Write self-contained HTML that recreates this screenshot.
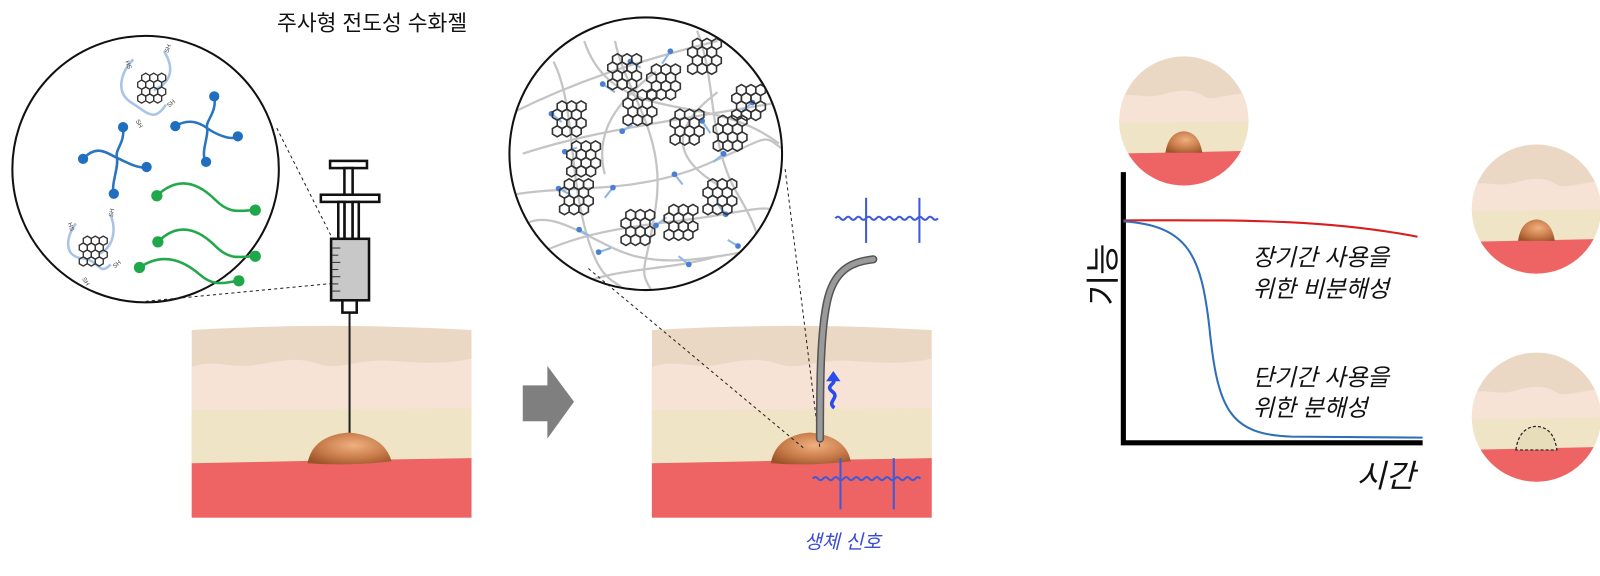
<!DOCTYPE html>
<html><head><meta charset="utf-8"><style>
html,body{margin:0;padding:0;background:#fff;}
svg{display:block;}
text{font-family:"Liberation Sans","Noto Sans CJK KR",sans-serif;}
</style></head><body>
<svg width="1600" height="576" viewBox="0 0 1561 562" xmlns="http://www.w3.org/2000/svg">
<defs>
<radialGradient id="bump" cx="0.55" cy="0.4" r="0.7">
<stop offset="0" stop-color="#f0b080"/><stop offset="0.6" stop-color="#c67a48"/><stop offset="1" stop-color="#9a5228"/></radialGradient>
<path id="h" d="M0,-4.5 L3.9,-2.25 L3.9,2.25 L0,4.5 L-3.9,2.25 L-3.9,-2.25Z" fill="none" stroke="#333" stroke-width="1.3"/>
<g id="c">
<use href="#h" x="-3.9" y="-10.1"/><use href="#h" x="3.9" y="-10.1"/><use href="#h" x="11.7" y="-10.1"/>
<use href="#h" x="-7.8" y="-3.4"/><use href="#h" x="0" y="-3.4"/><use href="#h" x="7.8" y="-3.4"/>
<use href="#h" x="-3.9" y="3.4"/><use href="#h" x="3.9" y="3.4"/><use href="#h" x="11.7" y="3.4"/>
<use href="#h" x="-7.8" y="10.1"/><use href="#h" x="0" y="10.1"/><use href="#h" x="7.8" y="10.1"/>
</g>
<g id="c2" transform="scale(1.2)"><use href="#c"/></g>
<g id="skin">
<path d="M187,322 Q320,314 460,322 L460,505 L187,505Z" fill="#ebd8c4"/>
<path d="M187,358 C210,350 225,360 250,356 S290,348 310,355 S350,350 380,352 S430,356 460,350 L460,505 L187,505Z" fill="#f7e2d6"/>
<path d="M187,400 L460,398 L460,505 L187,505Z" fill="#efe5c6"/>
<path d="M187,452 L340,449 L460,447 L460,505 L187,505Z" fill="#ee6363"/>
</g>
<g id="cskin">
<rect x="-70" y="-70" width="140" height="140" fill="#ebd8c4"/>
<path d="M-70,-22 C-50,-30 -40,-20 -20,-26 S10,-30 20,-24 S50,-30 70,-26 L70,70 L-70,70Z" fill="#f7e2d6"/>
<path d="M-70,2 L70,0 L70,70 L-70,70Z" fill="#efe5c6"/>
<path d="M-70,32 L70,29 L70,70 L-70,70Z" fill="#ee6363"/>
</g>
<clipPath id="cc"><circle cx="0" cy="0" r="63"/></clipPath>
<clipPath id="mc"><circle cx="630" cy="150" r="132"/></clipPath>
</defs>

<text x="363" y="30" font-size="21" text-anchor="middle" fill="#111">주사형 전도성 수화젤</text>

<circle cx="142" cy="165" r="130" fill="#fff" stroke="#111" stroke-width="2"/>
<line x1="270" y1="125" x2="328" y2="240" stroke="#222" stroke-dasharray="3,3"/>
<line x1="142" y1="294" x2="330" y2="276" stroke="#222" stroke-dasharray="3,3"/>
<g stroke="#a9c4e4" stroke-width="2.5" fill="none">
<path d="M130,58 C118,70 112,90 128,100 S150,120 162,102"/>
<path d="M160,50 C170,66 168,80 150,88"/>
<path d="M74,218 C64,232 62,250 80,252 S96,270 108,258"/>
<path d="M108,210 C114,226 110,242 96,248"/>
</g>
<use href="#c" x="146" y="86"/>
<use href="#c" x="89" y="245"/>
<g font-size="6" fill="#444">
<text x="122" y="60" transform="rotate(70 122 60)">HS</text>
<text x="164" y="52" transform="rotate(-70 164 52)">SH</text>
<text x="165" y="105" transform="rotate(-40 165 105)">SH</text>
<text x="132" y="118" transform="rotate(60 132 118)">SH</text>
<text x="66" y="218" transform="rotate(70 66 218)">HS</text>
<text x="110" y="212" transform="rotate(-80 110 212)">SH</text>
<text x="112" y="262" transform="rotate(-40 112 262)">SH</text>
<text x="80" y="272" transform="rotate(60 80 272)">SH</text>
</g>
<g stroke="#2a74c0" stroke-width="2.5" fill="none">
<path d="M81,155 C95,140 105,150 114,154 S135,165 143,163"/>
<path d="M120,124 C122,140 112,145 114,154 S108,180 111,189"/>
<path d="M171,123 C185,115 195,120 202,125 S225,138 232,133"/>
<path d="M209,94 C212,110 200,118 202,125 S195,150 201,158"/>
</g>
<g fill="#1f6ec0">
<circle cx="81" cy="155" r="5"/><circle cx="120" cy="124" r="5"/><circle cx="143" cy="163" r="5"/><circle cx="111" cy="189" r="5"/>
<circle cx="171" cy="123" r="5"/><circle cx="209" cy="94" r="5"/><circle cx="232" cy="133" r="5"/><circle cx="201" cy="158" r="5"/>
</g>
<g stroke="#22a84a" stroke-width="2.5" fill="none">
<path d="M153,191 C175,170 195,180 210,195 S235,205 249,205"/>
<path d="M154,236 C175,215 195,225 210,240 S235,250 249,250"/>
<path d="M136,261 C160,245 180,255 195,268 S220,275 233,274"/>
</g>
<g fill="#1ea84a">
<circle cx="153" cy="191" r="5.5"/><circle cx="249" cy="205" r="5.5"/><circle cx="154" cy="236" r="5.5"/><circle cx="249" cy="250" r="5.5"/><circle cx="136" cy="261" r="5.5"/><circle cx="233" cy="274" r="5.5"/>
</g>

<use href="#skin"/>
<line x1="341" y1="300" x2="341" y2="440" stroke="#222" stroke-width="2"/>
<path d="M300,452 Q305,425 340,422 Q375,425 382,450 Q340,455 300,452Z" fill="url(#bump)"/>

<g stroke="#111" stroke-width="2.5" fill="#fff">
<rect x="322" y="157" width="36" height="7"/>
<rect x="336" y="164" width="8" height="70"/>
<rect x="313" y="190" width="57" height="7"/>
<rect x="330" y="197" width="6" height="37"/><rect x="344" y="197" width="6" height="37"/>
<rect x="323" y="233" width="37" height="60" fill="#c8c8c8"/>
<rect x="334" y="293" width="14" height="12"/>
</g>
<g stroke="#333" stroke-width="1">
<line x1="324" y1="242" x2="332" y2="242"/><line x1="324" y1="249" x2="330" y2="249"/><line x1="324" y1="256" x2="332" y2="256"/><line x1="324" y1="263" x2="330" y2="263"/><line x1="324" y1="270" x2="332" y2="270"/><line x1="324" y1="277" x2="330" y2="277"/><line x1="324" y1="284" x2="332" y2="284"/>
</g>

<path d="M510,376 L534,376 L534,357 L560,392 L534,428 L534,411 L510,411Z" fill="#7f7f7f"/>

<circle cx="630" cy="150" r="133" fill="#fff"/>
<g clip-path="url(#mc)">
<g stroke="#c4c4c4" stroke-width="2.2" fill="none">
<path d="M500,110 C560,80 620,60 700,40"/>
<path d="M510,150 C570,130 640,120 760,100"/>
<path d="M500,190 C560,180 620,190 690,160 S740,130 770,150"/>
<path d="M520,250 C580,220 640,220 700,210 S750,200 770,220"/>
<path d="M540,60 C560,100 555,160 570,220 S600,270 610,285"/>
<path d="M600,40 C610,90 650,130 640,200 S620,260 640,290"/>
<path d="M680,30 C700,80 690,140 720,190 S740,250 740,270"/>
<path d="M570,40 C580,70 600,90 640,100 S720,110 760,140"/>
<path d="M510,220 C540,200 580,240 620,250 S700,250 760,240"/>
<path d="M560,280 C600,260 650,265 700,250"/>
<path d="M640,70 C600,100 580,130 590,170"/>
<path d="M700,90 C660,120 650,150 700,180"/>
</g>
<g stroke="#8fb6e8" stroke-width="2" fill="none">
<path d="M538,111 l10,8 M588,82 l12,8 M654,50 l-8,12 M607,128 l10,-6 M685,118 l8,12 M734,100 l-10,8 M545,184 l12,6 M598,183 l-8,10 M706,150 l-10,8 M565,224 l10,6 M640,220 l10,-8 M708,209 l-8,-10 M584,246 l12,-4 M672,258 l-10,-8 M551,148 l12,-4 M658,170 l8,10 M720,240 l-10,-6 M615,60 l10,6"/>
</g>
<g fill="#4a80d4">
<circle cx="538" cy="111" r="2.8"/><circle cx="588" cy="82" r="2.8"/><circle cx="654" cy="50" r="2.8"/><circle cx="607" cy="128" r="2.8"/><circle cx="685" cy="118" r="2.8"/><circle cx="734" cy="100" r="2.8"/>
<circle cx="545" cy="184" r="2.8"/><circle cx="598" cy="183" r="2.8"/><circle cx="706" cy="150" r="2.8"/><circle cx="565" cy="224" r="2.8"/><circle cx="640" cy="220" r="2.8"/><circle cx="708" cy="209" r="2.8"/>
<circle cx="584" cy="246" r="2.8"/><circle cx="672" cy="258" r="2.8"/><circle cx="551" cy="148" r="2.8"/><circle cx="658" cy="170" r="2.8"/><circle cx="720" cy="240" r="2.8"/><circle cx="615" cy="60" r="2.8"/>
</g>
<use href="#c2" x="607" y="70"/><use href="#c2" x="645" y="80"/><use href="#c2" x="685" y="55"/>
<use href="#c2" x="553" y="116"/><use href="#c2" x="668" y="124"/><use href="#c2" x="710" y="130"/><use href="#c2" x="728" y="100"/>
<use href="#c2" x="567" y="155"/><use href="#c2" x="560" y="192"/>
<use href="#c2" x="620" y="222"/><use href="#c2" x="662" y="217"/><use href="#c2" x="700" y="192"/>
<use href="#c2" x="622" y="105"/>
</g>
<circle cx="630" cy="150" r="133" fill="none" stroke="#111" stroke-width="2"/>

<use href="#skin" x="449"/>
<path d="M752,452 Q757,425 790,422 Q825,425 830,450 Q790,455 752,452Z" fill="url(#bump)"/>
<line x1="574" y1="262" x2="785" y2="438" stroke="#222" stroke-dasharray="3,3"/>
<line x1="766" y1="165" x2="800" y2="438" stroke="#222" stroke-dasharray="3,3"/>
<path d="M800,428 C800,380 800,320 808,290 S835,255 852,253" fill="none" stroke="#555" stroke-width="8" stroke-linecap="round"/>
<path d="M800,428 C800,380 800,320 808,290 S835,255 852,253" fill="none" stroke="#9a9a9a" stroke-width="5" stroke-linecap="round"/>
<path d="M814,398 C806,392 820,388 812,382 S818,374 812,370" fill="none" stroke="#2a4be8" stroke-width="3.5"/>
<path d="M806,372 L813,362 L820,372Z" fill="#2a4be8"/>
<g stroke="#3f5ad8" stroke-width="2" fill="none">
<path d="M815,213 q2.5,-3 5,0 t5,0 t5,0 t5,0 t5,0 t5,0 t5,0 t5,0 t5,0 t5,0 t5,0 t5,0 t5,0 t5,0 t5,0 t5,0 t5,0 t5,0 t5,0 t5,0"/>
<line x1="845" y1="193" x2="845" y2="237"/><line x1="897" y1="193" x2="897" y2="237"/>
<path d="M793,467 q2.5,-3 5,0 t5,0 t5,0 t5,0 t5,0 t5,0 t5,0 t5,0 t5,0 t5,0 t5,0 t5,0 t5,0 t5,0 t5,0 t5,0 t5,0 t5,0 t5,0 t5,0 t5,0"/>
<line x1="820" y1="447" x2="820" y2="497"/><line x1="872" y1="447" x2="872" y2="497"/>
</g>
<text x="822" y="535" font-size="19" font-style="italic" fill="#3b4bd6" text-anchor="middle">생체 신호</text>

<g transform="translate(1155,118)"><g clip-path="url(#cc)"><use href="#cskin"/>
<path d="M-18,31 Q-15,11 0,10 Q15,11 18,31Z" fill="url(#bump)"/></g></g>
<g transform="translate(1499,204)"><g clip-path="url(#cc)"><use href="#cskin"/>
<path d="M-18,31 Q-15,11 0,10 Q15,11 18,31Z" fill="url(#bump)"/></g></g>
<g transform="translate(1499,407)"><g clip-path="url(#cc)"><use href="#cskin"/>
<path d="M-20,32 Q-17,10 0,9 Q17,10 20,32Z" fill="#e8ddbb" stroke="#222" stroke-width="1.2" stroke-dasharray="3,2"/></g></g>

<path d="M1096,168 L1096,432 L1388,432" fill="none" stroke="#000" stroke-width="5"/>
<path d="M1096,215 C1200,215 1290,213 1383,231" fill="none" stroke="#d81e1e" stroke-width="2"/>
<path d="M1096,216 C1160,220 1172,250 1180,320 C1188,400 1200,424 1260,426 L1388,427" fill="none" stroke="#2f6eb8" stroke-width="2"/>
<g font-size="23" font-style="italic" fill="#111">
<text x="1222" y="259">장기간 사용을</text>
<text x="1222" y="290">위한  비분해성</text>
<text x="1222" y="376">단기간 사용을</text>
<text x="1222" y="406">위한 분해성</text>
</g>
<text x="1092" y="268" font-size="33" fill="#111" text-anchor="middle" transform="rotate(-90 1092 268)" dy="-4">기능</text>
<text x="1352" y="475" font-size="31" font-style="italic" fill="#111" text-anchor="middle">시간</text>
</svg>
</body></html>
